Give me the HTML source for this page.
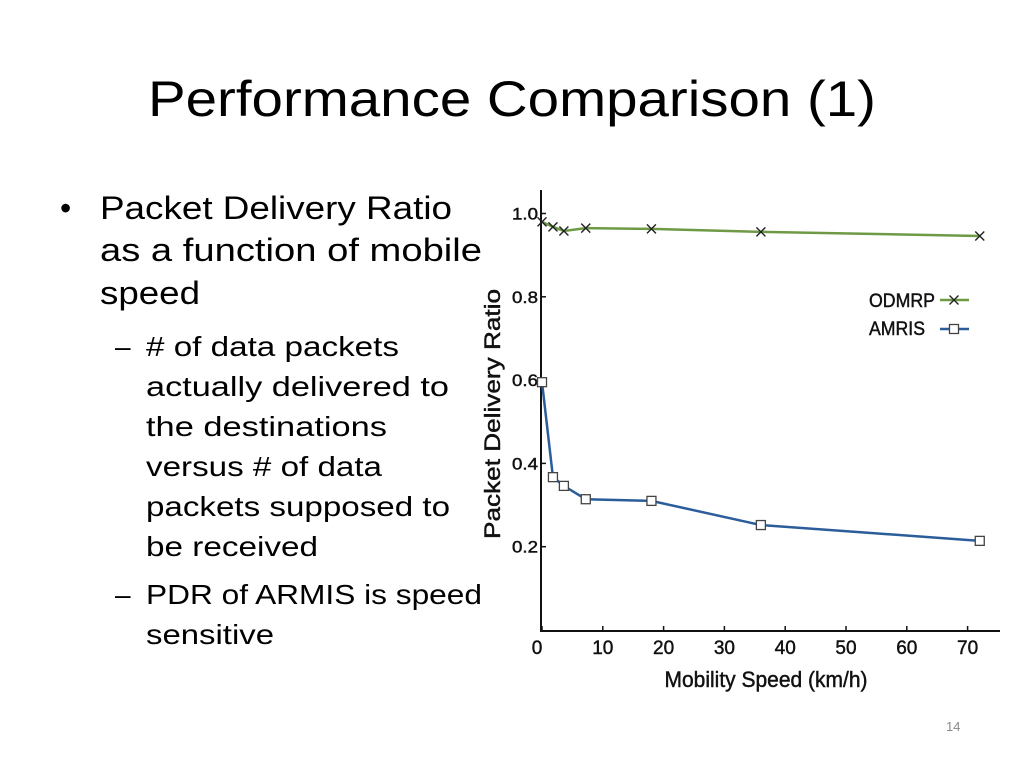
<!DOCTYPE html>
<html><head><meta charset="utf-8"><style>
html,body{margin:0;padding:0;background:#fff}
svg{display:block}
.t{font-family:"Liberation Sans",Arial,sans-serif}
.c{font-family:"Liberation Sans",Arial,sans-serif;stroke:#111;stroke-width:0.45}
</style></head><body>
<svg id="s" width="1024" height="768" viewBox="0 0 1024 768" xmlns="http://www.w3.org/2000/svg">
<text class="t" x="148" y="116" font-size="50" textLength="728" lengthAdjust="spacingAndGlyphs" fill="#000">Performance Comparison (1)</text>
<g class="t" fill="#000">
<text x="60" y="219" font-size="32">•</text>
<text x="100" y="219" font-size="32" textLength="352" lengthAdjust="spacingAndGlyphs">Packet Delivery Ratio</text>
<text x="100" y="261" font-size="32" textLength="382" lengthAdjust="spacingAndGlyphs">as a function of mobile</text>
<text x="100" y="304" font-size="32" textLength="100" lengthAdjust="spacingAndGlyphs">speed</text>
<text x="115" y="356" font-size="28">–</text>
<text x="146" y="356" font-size="28" textLength="253" lengthAdjust="spacingAndGlyphs"># of data packets</text>
<text x="146" y="396" font-size="28" textLength="303" lengthAdjust="spacingAndGlyphs">actually delivered to</text>
<text x="146" y="436" font-size="28" textLength="241" lengthAdjust="spacingAndGlyphs">the destinations</text>
<text x="146" y="476" font-size="28" textLength="236" lengthAdjust="spacingAndGlyphs">versus # of data</text>
<text x="146" y="516" font-size="28" textLength="304" lengthAdjust="spacingAndGlyphs">packets supposed to</text>
<text x="146" y="556" font-size="28" textLength="172" lengthAdjust="spacingAndGlyphs">be received</text>
<text x="115" y="604" font-size="28">–</text>
<text x="146" y="604" font-size="28" textLength="336" lengthAdjust="spacingAndGlyphs">PDR of ARMIS is speed</text>
<text x="146" y="644" font-size="28" textLength="128" lengthAdjust="spacingAndGlyphs">sensitive</text>
</g>
<text class="t" x="946" y="731" font-size="13" fill="#8a8a8a">14</text>
<g id="chart"></g>
</svg>
<script>
const xTicks=[0,10,20,30,40,50,60,70];
const yTicks=[0.2,0.4,0.6,0.8,1.0];
const yTickLabels=["0.2","0.4","0.6","0.8","1.0"];
const speeds=[0,1.8,3.6,7.2,18,36,72];
const odmrp=[0.98,0.968,0.958,0.965,0.963,0.956,0.946];
const amris=[0.595,0.367,0.346,0.314,0.31,0.252,0.214];
const NS="http://www.w3.org/2000/svg";
const g=document.getElementById('chart');
const X=v=>542+v*6.08;
const Y=v=>630-v*416.5;
function mk(tag,attrs,parent){const e=document.createElementNS(NS,tag);for(const k in attrs)e.setAttribute(k,attrs[k]);(parent||g).appendChild(e);return e;}
let a=mk('path',{d:'M541 190 V631 H1000',fill:'none',stroke:'#111','stroke-width':2});


xTicks.forEach(v=>{
 let t=mk('line',{x1:X(v),x2:X(v),y1:631,y2:626,stroke:'#111','stroke-width':1.5});
 
 
 let l=mk('text',{x:X(v)-(v===0?5:0),y:654,'font-size':19,'text-anchor':'middle','class':'c',fill:'#111'});
 l.textContent=String(v);
 
 
});
yTicks.forEach((v,i)=>{
 let t=mk('line',{x1:541,x2:546,y1:Y(v),y2:Y(v),stroke:'#111','stroke-width':1.5});
 
 
 let l=mk('text',{x:538,y:Y(v)+6,'font-size':17,'text-anchor':'end','class':'c',fill:'#111',textLength:26,lengthAdjust:'spacingAndGlyphs'});
 l.textContent=yTickLabels[i];
 
 
});
let xt=mk('text',{x:766,y:687,'font-size':22,'text-anchor':'middle','class':'c',fill:'#111',textLength:203,lengthAdjust:'spacingAndGlyphs'});
xt.textContent='Mobility Speed (km/h)';


let yt=mk('text',{x:0,y:0,'font-size':22,'text-anchor':'middle','class':'c',fill:'#111',transform:'translate(500,414) rotate(-90)',textLength:250,lengthAdjust:'spacingAndGlyphs'});
yt.textContent='Packet Delivery Ratio';


function series(vals,color,name,marker){
 let d=vals.map((v,i)=>(i?'L':'M')+X(speeds[i])+' '+Y(v)).join(' ');
 let p=mk('path',{d:d,fill:'none',stroke:color,'stroke-width':2.5});
 
 
 vals.forEach((v,i)=>{marker(X(speeds[i]),Y(v),name);});
}
function cross(x,y,name){
 let m=mk('path',{d:`M${x-4.5} ${y-4.5}L${x+4.5} ${y+4.5}M${x-4.5} ${y+4.5}L${x+4.5} ${y-4.5}`,stroke:'#222','stroke-width':1.4,fill:'none'});
 
 
}
function sq(x,y,name){
 let m=mk('rect',{x:x-4.5,y:y-4.5,width:9,height:9,fill:'#fff',stroke:'#444','stroke-width':1.3});
 
 
}
series(odmrp,'#6e9a46','odmrp',cross);
series(amris,'#2a5d9a','amris',sq);
let l1=mk('text',{x:869,y:307,'font-size':19,'class':'c',fill:'#111',textLength:66,lengthAdjust:'spacingAndGlyphs'});
l1.textContent='ODMRP';


let ll1=mk('line',{x1:940,x2:969,y1:300,y2:300,stroke:'#6e9a46','stroke-width':2.5});


cross(954,300,'legend-odmrp');
let l2=mk('text',{x:869,y:335,'font-size':19,'class':'c',fill:'#111',textLength:56,lengthAdjust:'spacingAndGlyphs'});
l2.textContent='AMRIS';


let ll2=mk('line',{x1:940,x2:969,y1:329,y2:329,stroke:'#2a5d9a','stroke-width':2.5});


sq(954,329,'legend-amris');
</script>
</body></html>
